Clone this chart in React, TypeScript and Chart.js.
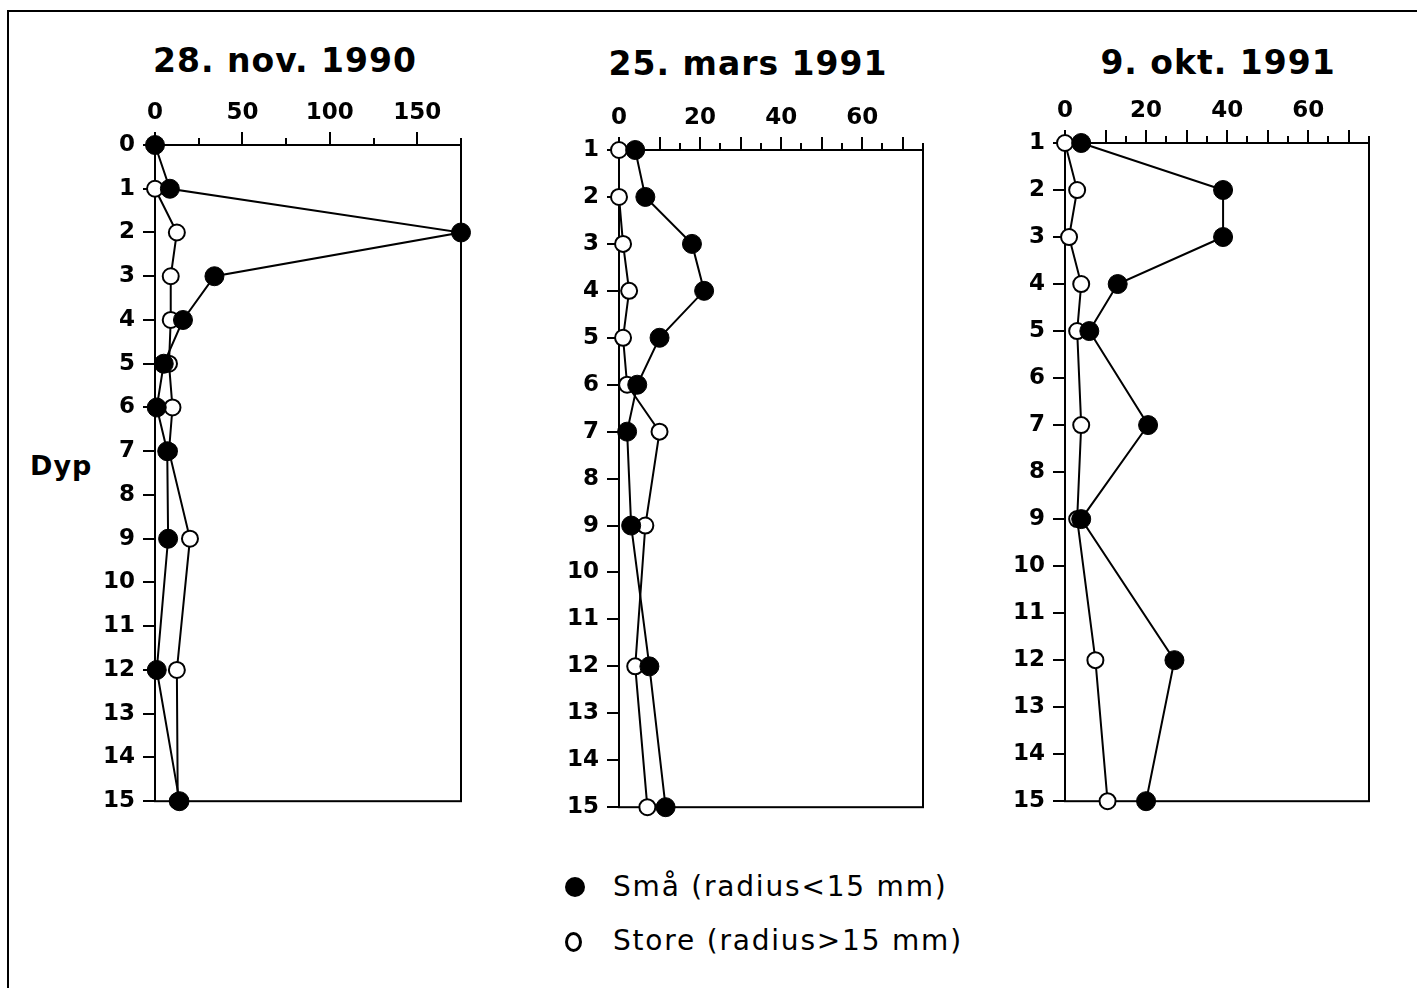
import React, { useEffect, useRef } from 'react';
import { Chart, registerables } from 'chart.js';

Chart.register(...registerables);

// ---------- data ----------
const titleNov = '28. nov. 1990';
const depthNov = [0, 1, 2, 3, 4, 5, 6, 7, 9, 12, 15];
const smallNov = [0, 8.5, 175, 34, 16, 5, 1, 7, 7.5, 1, 14];
const largeNov = [0, 0, 12.5, 9, 9, 8, 10, 8, 20, 12.5, 13];

const titleMar = '25. mars 1991';
const depthMar = [1, 2, 3, 4, 5, 6, 7, 9, 12, 15];
const smallMar = [4, 6.5, 18, 21, 10, 4.5, 2, 3, 7.5, 11.5];
const largeMar = [0, 0, 1, 2.5, 1, 2, 10, 6.5, 4, 7];

const titleOkt = '9. okt. 1991';
const depthOkt = [1, 2, 3, 4, 5, 7, 9, 12, 15];
const smallOkt = [4, 39, 39, 13, 6, 20.5, 4, 27, 20];
const largeOkt = [0, 3, 1, 4, 3, 4, 3, 7.5, 10.5];

const legendSmall = 'Små (radius<15 mm)';
const legendLarge = 'Store (radius>15 mm)';
const yAxisTitle = 'Dyp';

// ---------- layout (positions only) ----------
const FONT = "'DejaVu Sans', sans-serif";
const LEFT_SPACE = 60;
const TOP_SPACE = 60;
const RIGHT_SPACE = 20;
const BOTTOM_SPACE = 20;

type PanelCfg = {
  title: string;
  depths: number[];
  small: number[];
  large: number[];
  xMax: number;
  xStep: number;
  labelStep: number;
  majorStep: number;
  yMin: number;
  box: { l: number; t: number; r: number; b: number };
  titleX: number;
  titleY: number;
};

const panels: PanelCfg[] = [
  {
    title: titleNov, depths: depthNov, small: smallNov, large: largeNov,
    xMax: 175, xStep: 25, labelStep: 50, majorStep: 50, yMin: 0,
    box: { l: 155, t: 145, r: 461, b: 803 }, titleX: 285, titleY: 60,
  },
  {
    title: titleMar, depths: depthMar, small: smallMar, large: largeMar,
    xMax: 75, xStep: 5, labelStep: 20, majorStep: 10, yMin: 1,
    box: { l: 619, t: 150, r: 923, b: 809 }, titleX: 748, titleY: 63,
  },
  {
    title: titleOkt, depths: depthOkt, small: smallOkt, large: largeOkt,
    xMax: 75, xStep: 5, labelStep: 20, majorStep: 10, yMin: 1,
    box: { l: 1065, t: 143, r: 1369, b: 803 }, titleX: 1218, titleY: 62,
  },
];

function makeFramePlugin(majorStep: number) {
  return {
    id: 'frameTicks',
    beforeDatasetsDraw(chart: any) {
      const { ctx, chartArea: a, scales } = chart;
      const xs = scales.x;
      ctx.save();
      ctx.strokeStyle = '#000';
      ctx.lineWidth = 2;
      ctx.strokeRect(a.left, a.top, a.right - a.left, a.bottom - a.top);
      ctx.beginPath();
      xs.ticks.forEach((t: any) => {
        const px = Math.round(xs.getPixelForValue(t.value));
        const len = Math.abs(t.value % majorStep) < 1e-6 ? 13 : 7;
        ctx.moveTo(px, a.top);
        ctx.lineTo(px, a.top - len);
      });
      ctx.stroke();
      ctx.restore();
    },
  };
}

function Panel({ cfg }: { cfg: PanelCfg }) {
  const ref = useRef<HTMLCanvasElement>(null);
  const { box } = cfg;
  const width = box.r - box.l + LEFT_SPACE + RIGHT_SPACE;
  const height = box.b - box.t + TOP_SPACE + BOTTOM_SPACE;

  useEffect(() => {
    if (!ref.current) return;
    const toPts = (vals: number[]) => vals.map((v, i) => ({ x: v, y: cfg.depths[i] }));
    const chart = new Chart(ref.current, {
      type: 'scatter',
      data: {
        datasets: [
          {
            label: legendSmall,
            data: toPts(cfg.small),
            showLine: true,
            borderColor: '#000',
            borderWidth: 2,
            pointRadius: 9.5,
            pointBackgroundColor: '#000',
            pointBorderColor: '#000',
            pointBorderWidth: 1,
            clip: false as any,
          },
          {
            label: legendLarge,
            data: toPts(cfg.large),
            showLine: true,
            borderColor: '#000',
            borderWidth: 2,
            pointRadius: 8,
            pointBackgroundColor: '#fff',
            pointBorderColor: '#000',
            pointBorderWidth: 2,
            clip: false as any,
          },
        ],
      },
      options: {
        responsive: false,
        animation: false,
        events: [],
        layout: { padding: { left: 0, top: 0, right: RIGHT_SPACE, bottom: BOTTOM_SPACE } },
        plugins: { legend: { display: false }, tooltip: { enabled: false }, title: { display: false } },
        scales: {
          x: {
            type: 'linear',
            position: 'top',
            min: 0,
            max: cfg.xMax,
            border: { display: false },
            grid: { display: false, drawTicks: false },
            ticks: {
              stepSize: cfg.xStep,
              autoSkip: false,
              maxRotation: 0,
              padding: 18,
              color: '#000',
              font: { family: FONT, size: 23, weight: 'bold' },
              callback: (v: any) => (Math.abs(Number(v) % cfg.labelStep) < 1e-6 ? String(v) : ''),
            },
            afterFit: (s: any) => { s.height = TOP_SPACE; },
          },
          y: {
            type: 'linear',
            reverse: true,
            min: cfg.yMin,
            max: 15,
            border: { display: false },
            grid: {
              display: true,
              drawOnChartArea: false,
              drawTicks: true,
              tickLength: 12,
              color: '#000',
              lineWidth: 2,
            },
            ticks: {
              stepSize: 1,
              autoSkip: false,
              padding: 8,
              color: '#000',
              font: { family: FONT, size: 23, weight: 'bold' },
            },
            afterFit: (s: any) => { s.width = LEFT_SPACE; },
          },
        },
      },
      plugins: [makeFramePlugin(cfg.majorStep)],
    } as any);
    return () => chart.destroy();
  }, [cfg]);

  return (
    <>
      <div
        style={{
          position: 'absolute',
          left: cfg.titleX,
          top: cfg.titleY,
          transform: 'translate(-50%, -50%)',
          font: `bold 33px ${FONT}`,
          letterSpacing: '1px',
          whiteSpace: 'nowrap',
          lineHeight: '1',
          color: '#000',
        }}
      >
        {cfg.title}
      </div>
      <canvas
        ref={ref}
        width={width}
        height={height}
        style={{
          position: 'absolute',
          left: box.l - LEFT_SPACE,
          top: box.t - TOP_SPACE,
          width,
          height,
        }}
      />
    </>
  );
}

export default function App() {
  return (
    <div
      style={{
        position: 'fixed',
        left: 0,
        top: 0,
        width: 1417,
        height: 988,
        background: '#fff',
        overflow: 'hidden',
      }}
    >
      {/* outer frame (left and top edges) */}
      <div style={{ position: 'absolute', left: 7, top: 10, width: 1410, height: 2, background: '#000' }} />
      <div style={{ position: 'absolute', left: 7, top: 10, width: 2, height: 978, background: '#000' }} />

      {panels.map((p, i) => (
        <Panel key={i} cfg={p} />
      ))}

      <div
        style={{
          position: 'absolute',
          left: 30,
          top: 465,
          transform: 'translateY(-50%)',
          font: `bold 27px ${FONT}`,
          letterSpacing: '1px',
          lineHeight: '1',
          color: '#000',
        }}
      >
        {yAxisTitle}
      </div>

      {/* legend */}
      <div style={{ position: 'absolute', left: 565, top: 877, width: 20, height: 20, borderRadius: '50%', background: '#000' }} />
      <div style={{ position: 'absolute', left: 613, top: 887, transform: 'translateY(-50%)', font: `28px ${FONT}`, letterSpacing: '1.8px', lineHeight: '1', whiteSpace: 'nowrap', color: '#000' }}>
        {legendSmall}
      </div>
      <div style={{ position: 'absolute', left: 565, top: 932, width: 11, height: 14, borderRadius: '50%', border: '3px solid #000', background: '#fff' }} />
      <div style={{ position: 'absolute', left: 613, top: 941, transform: 'translateY(-50%)', font: `28px ${FONT}`, letterSpacing: '1.8px', lineHeight: '1', whiteSpace: 'nowrap', color: '#000' }}>
        {legendLarge}
      </div>
    </div>
  );
}
